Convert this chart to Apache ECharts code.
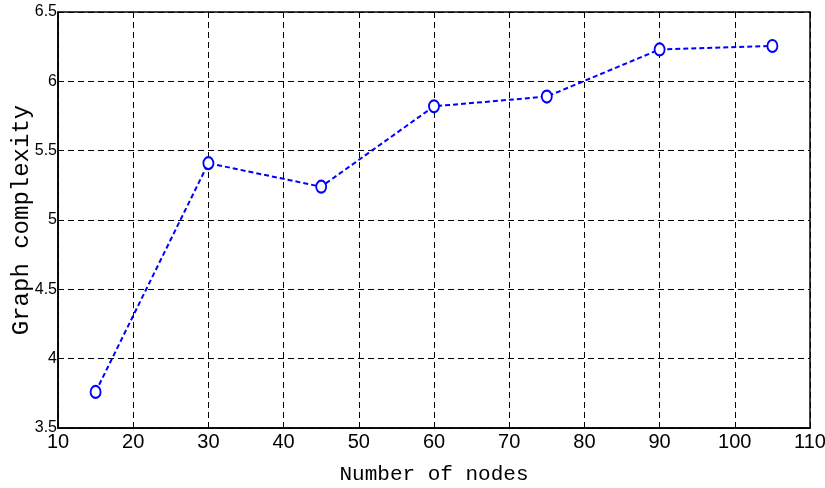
<!DOCTYPE html>
<html>
<head>
<meta charset="utf-8">
<script src="https://cdn.jsdelivr.net/npm/echarts@6/dist/echarts.min.js"></script>
<style>
  html, body { margin: 0; padding: 0; background: #fff; }
  #chart { width: 825px; height: 488px; }
</style>
</head>
<body>
<div id="chart"></div>
<script>
// Number of nodes in the graph and the measured complexity for each size
const nodeCounts = [15, 30, 45, 60, 75, 90, 105];
const complexity = [3.76, 5.41, 5.24, 5.82, 5.89, 6.23, 6.255];

const xTicks = { min: 10, max: 110, step: 10 };
const yTicks = { min: 3.5, max: 6.5, step: 0.5 };

const chart = echarts.init(document.getElementById('chart'), null, { renderer: 'canvas' });

const tickFont = "'Liberation Sans Narrow', 'Arial Narrow', 'Liberation Sans', Arial, sans-serif";
const titleFont = "'Liberation Mono', 'DejaVu Sans Mono', monospace";

chart.setOption({
  animation: false,
  backgroundColor: '#ffffff',
  grid: {
    left: 58, right: 15, top: 12, bottom: 60,
    containLabel: false,
    outerBoundsMode: 'none',
    show: true, borderColor: '#000', borderWidth: 1.5, backgroundColor: '#fff'
  },
  xAxis: {
    type: 'value',
    min: xTicks.min, max: xTicks.max, interval: xTicks.step,
    name: 'Number of nodes',
    nameLocation: 'middle',
    nameGap: 36,
    nameMoveOverlap: false,
    nameTextStyle: { fontFamily: titleFont, fontSize: 21, color: '#000' },
    axisLine: { show: true, lineStyle: { color: '#000', width: 1.5 } },
    axisTick: { show: false },
    axisLabel: { color: '#000', fontFamily: tickFont, fontSize: 20, margin: 4 },
    splitLine: { show: true, lineStyle: { color: '#000', type: [6, 4], width: 1 } }
  },
  yAxis: {
    type: 'value',
    min: yTicks.min, max: yTicks.max, interval: yTicks.step,
    name: 'Graph complexity',
    nameLocation: 'middle',
    nameGap: 24,
    nameMoveOverlap: false,
    nameTextStyle: { fontFamily: titleFont, fontSize: 24, color: '#000' },
    axisLine: { show: true, lineStyle: { color: '#000', width: 1.5 } },
    axisTick: { show: false },
    axisLabel: { color: '#000', fontFamily: tickFont, fontSize: 16, margin: 1 },
    splitLine: { show: true, lineStyle: { color: '#000', type: [6, 4], width: 1 } }
  },
  series: [{
    type: 'line',
    data: nodeCounts.map((n, i) => [n, complexity[i]]),
    symbol: 'emptyCircle',
    symbolSize: [10, 12],
    showAllSymbol: true,
    lineStyle: { color: '#0000ff', width: 2, type: [5, 3] },
    itemStyle: { color: '#0000ff', borderColor: '#0000ff', borderWidth: 2 }
  }]
});
</script>
</body>
</html>
